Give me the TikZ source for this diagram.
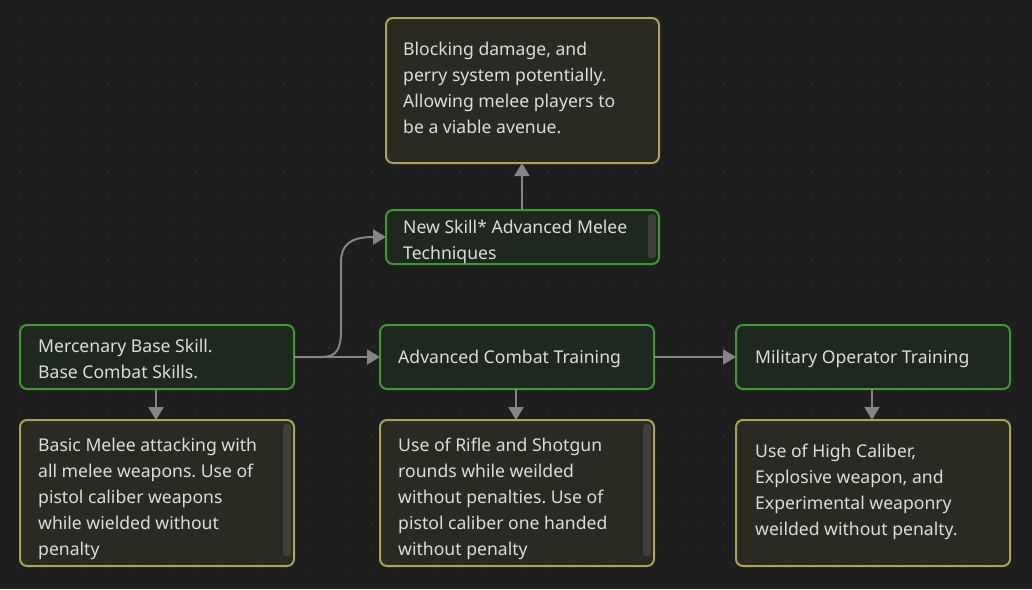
\documentclass[tikz,border=0pt]{standalone}
\usepackage{fontspec}
\setmainfont{Noto Sans}
\frenchspacing
\usetikzlibrary{arrows.meta}
\definecolor{bgc}{HTML}{1E1E1E}
\definecolor{dotc}{HTML}{343434}
\definecolor{greenb}{HTML}{3E9A2E}
\definecolor{greenf}{HTML}{1F281F}
\definecolor{yelb}{HTML}{A8A556}
\definecolor{yelf}{HTML}{2B2A22}
\definecolor{txtc}{HTML}{DCDCDC}
\definecolor{arrc}{HTML}{858585}
\definecolor{scrc}{HTML}{3E3E3A}
\tikzset{
  skillbox/.style={draw=greenb, fill=greenf, line width=2pt, rounded corners=7pt},
  notebox/.style={draw=yelb, fill=yelf, line width=2pt, rounded corners=7pt},
  txt/.style={anchor=base west, inner sep=0pt, align=left, text=txtc, font=\fontsize{17.6}{26}\selectfont},
  conn/.style={draw=arrc, line width=2pt, -{Triangle[length=13pt,width=15pt]}},
  scroll/.style={fill=scrc, rounded corners=3pt},
}
\begin{document}
\begin{tikzpicture}[x=1pt,y=-1pt]
\useasboundingbox (0,0) rectangle (1032,589);
\fill[bgc] (0,0) rectangle (1032,589);
\foreach \i in {0,...,46} {\foreach \j in {0,...,25} {
  \fill[dotc] (20+22*\i,18+22*\j) circle (1pt);
}}
% boxes
\draw[notebox] (386,18) rectangle (659,163);
\coordinate (topnoteS) at (522,163);
\draw[skillbox] (386,210) rectangle (659,264);
\coordinate (newskillN) at (522,210);
\coordinate (newskillW) at (386,237);
\draw[skillbox] (20,325) rectangle (294,389);
\coordinate (mercE) at (294,357);
\coordinate (mercS) at (156,389);
\draw[skillbox] (380,325) rectangle (654,389);
\coordinate (advW) at (380,357);
\coordinate (advE) at (654,357);
\coordinate (advS) at (516,389);
\draw[skillbox] (736,325) rectangle (1010,389);
\coordinate (milW) at (736,357);
\coordinate (milS) at (872,389);
\draw[notebox] (20,420) rectangle (294,566);
\coordinate (basicN) at (156,420);
\draw[notebox] (380,420) rectangle (654,566);
\coordinate (rifleN) at (516,420);
\draw[notebox] (736,420) rectangle (1010,566);
\coordinate (highN) at (872,420);
% scrollbars
\fill[scroll] (648,214) rectangle (656,258);
\fill[scroll] (283,424) rectangle (291,556);
\fill[scroll] (643,424) rectangle (651,556);
% texts (anchored at the baseline of the last line)
\node[txt] (t1) at (403,133) {Blocking damage, and\\perry system potentially.\\Allowing melee players to\\be a viable avenue.};
\node[txt] (t2) at (403,259) {New Skill* Advanced Melee\\Techniques};
\node[txt] (t3) at (38,378) {Mercenary Base Skill.\\Base Combat Skills.};
\node[txt] (t4) at (398,363) {Advanced Combat Training};
\node[txt] (t5) at (755,363) {Military Operator Training};
\node[txt] (t6) at (38,555) {Basic Melee attacking with\\all melee weapons. Use of\\pistol caliber weapons\\while wielded without\\penalty};
\node[txt] (t7) at (398,555) {Use of Rifle and Shotgun\\rounds while weilded\\without penalties. Use of\\pistol caliber one handed\\without penalty};
\node[txt] (t8) at (755,535) {Use of High Caliber,\\Explosive weapon, and\\Experimental weaponry\\weilded without penalty.};
% connectors
\draw[conn] (mercE) -- (advW);
\draw[conn] (mercE) -- (322,357) .. controls (336,357) and (341,350) .. (341,330) -- (341,262) .. controls (341,245) and (350,237) .. (newskillW);
\draw[conn] (newskillN) -- (topnoteS);
\draw[conn] (advE) -- (milW);
\draw[conn] (mercS) -- (basicN);
\draw[conn] (advS) -- (rifleN);
\draw[conn] (milS) -- (highN);
\end{tikzpicture}
\end{document}
